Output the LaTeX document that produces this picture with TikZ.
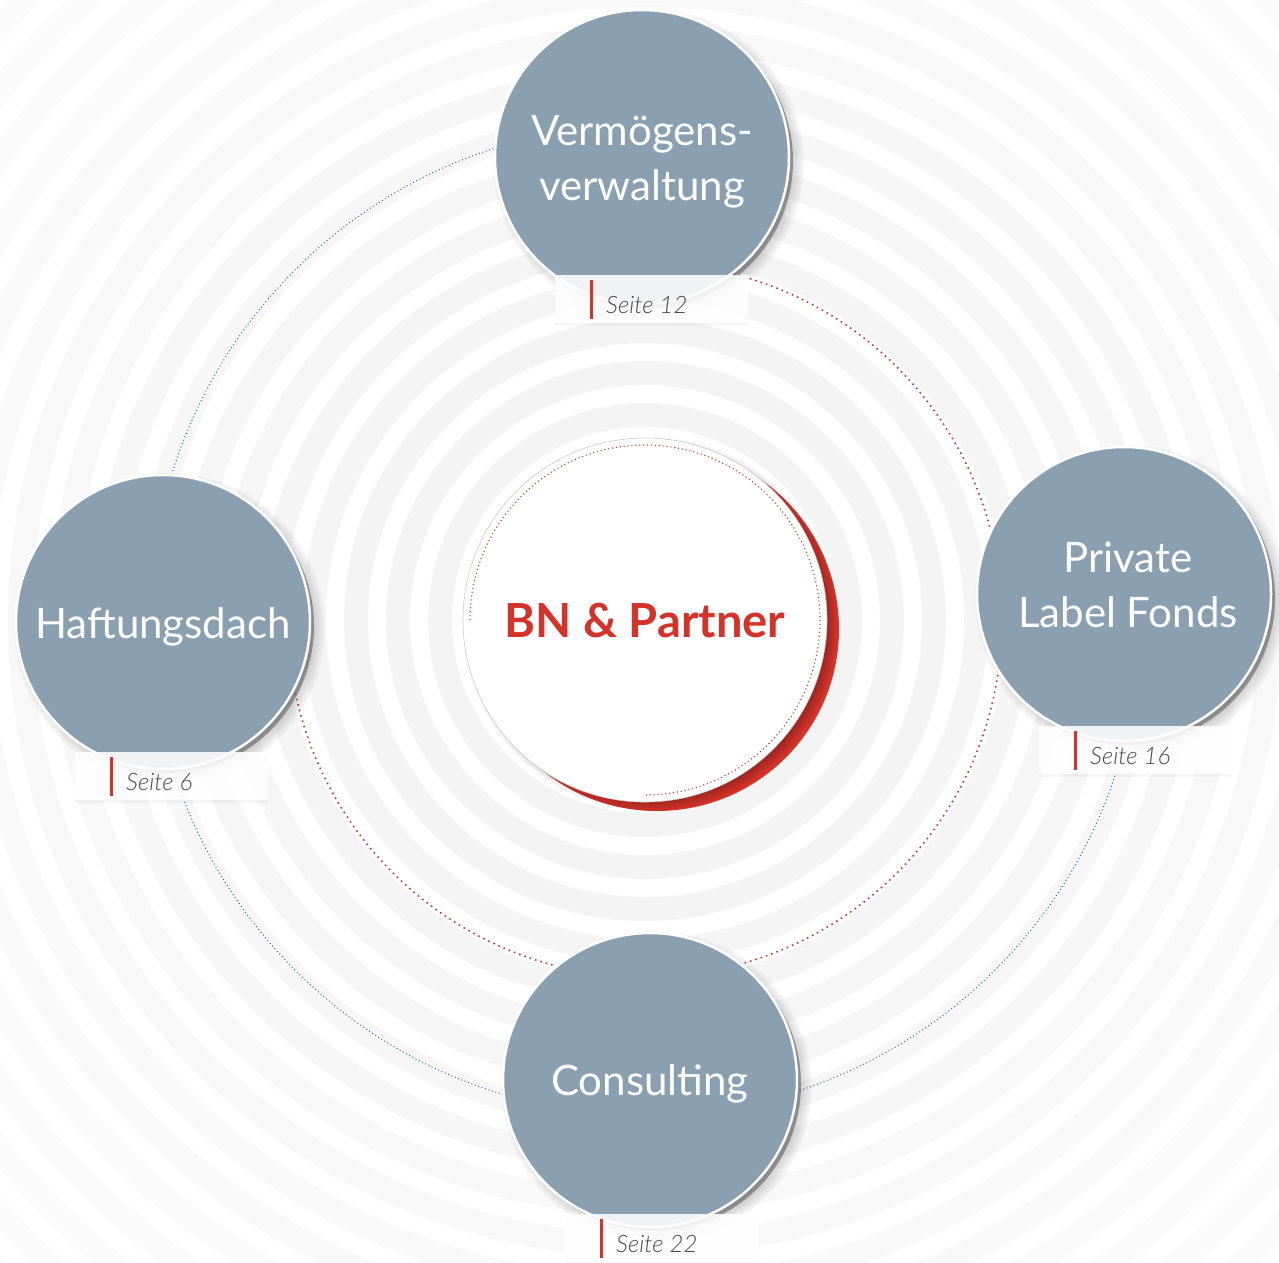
\documentclass[tikz,border=0pt]{standalone}
\usepackage{fontspec}
\setmainfont{Lato}
\newfontfamily\seitefont{Lato Light}
\usetikzlibrary{shadows,fadings,calc}

\definecolor{satfill}{HTML}{8A9FB0}
\definecolor{bnred}{HTML}{D4332A}
\definecolor{ringgrey}{HTML}{F4F4F4}
\definecolor{dotblue}{HTML}{3C6687}
\definecolor{seitegrey}{HTML}{4A4A4A}

\tikzset{
  ring/.style={draw=ringgrey, line width=24pt},
  reddots/.style={draw=bnred, line width=1.6pt, dash pattern=on 1.6pt off 4pt},
  bluedots/.style={draw=dotblue, line width=1pt, dash pattern=on 1pt off 2.6pt},
  sat/.style={circle, fill=satfill, draw=white, line width=2.5pt,
    minimum size=294pt, inner sep=0pt,
    circular drop shadow={shadow scale=1.06, shadow xshift=6pt,
      shadow yshift=-6pt, opacity=0.5, fill=black!60},
    general shadow={shadow scale=1.0, shadow xshift=4pt,
      shadow yshift=-4pt, opacity=0.55, fill=black!65}},
  sattext/.style={text=white, font=\fontsize{42}{55}\selectfont,
    align=center, inner sep=0pt},
  seitebox/.style={rectangle, anchor=north west, minimum width=193pt,
    minimum height=48pt, inner sep=0pt, fill=white, fill opacity=0.88,
    drop shadow={shadow xshift=0pt, shadow yshift=-3pt, opacity=0.07}},
  seitetext/.style={anchor=base west, inner sep=0pt, text=seitegrey,
    font=\seitefont\itshape\fontsize{24}{28}\selectfont},
  redbar/.style={draw=bnred, line width=3pt},
  bncircle/.style={circle, fill=white, draw=black!20, line width=0.6pt,
    minimum size=364pt, inner sep=0pt},
  bntext/.style={text=bnred, font=\bfseries\fontsize{47}{56}\selectfont,
    inner sep=0pt},
}

\begin{document}
\begin{tikzpicture}[x=1pt,y=-1pt]
\useasboundingbox (0,0) rectangle (1279,1262);
\fill[white] (0,0) rectangle (1279,1262);
\coordinate (C) at (645,620);

% concentric background rings, fading outwards
\begin{scope}
  \clip (0,0) rectangle (1279,1262);
  \foreach \k in {0,...,17}{
    \pgfmathsetmacro\op{max(0.3,1-0.045*\k)}
    \draw[ring, draw opacity=\op] (C) circle[radius={205+42*\k}];
  }
\end{scope}

% dotted orbits
\draw[bluedots] (C) ++(0:495) arc[start angle=0, end angle=270, radius=495];
\draw[reddots] (C) ++(270:357) arc[start angle=270, end angle=540, radius=357];

% central circle with red offset rim
\fill[bnred] ($(C)+(12,9)$) circle[radius=182];
\fill[black, opacity=0.6, path fading=circle with fuzzy edge 15 percent]
  ($(C)+(5,4)$) circle[radius=187];
\node[bncircle] (bn) at (C) {};
\draw[reddots, line width=1.1pt, dash pattern=on 1.1pt off 2.8pt]
  (bn.center) ++(180:175) arc[start angle=180, end angle=450, radius=175];
\node[bntext] (bnlabel) at (bn.center) {BN \& Partner};

% satellites
\node[sat] (vv) at (642,157) {};
\node[sat] (hd) at (163,622) {};
\node[sat] (pl) at (1124,594) {};
\node[sat] (co) at (650,1080) {};

\node[sattext] (vvt) at ($(vv.center)+(0,5)$) {Vermögens-\\verwaltung};
\node[sattext] (hdt) at ($(hd.center)+(0,5)$) {Haftungsdach};
\node[sattext] (plt) at ($(pl.center)+(4,-9)$) {Private\\Label Fonds};
\node[sattext] (cot) at ($(co.center)+(0,4)$) {Consulting};

% page references
\foreach \nm/\px/\py/\txt in {s12/555/275/12, s6/75/752/6, s16/1039/726/16, s22/565/1214/22}{
  \node[seitebox] (\nm) at (\px,\py) {};
  \draw[redbar] ([xshift=36pt,yshift=-5pt]\nm.north west)
             -- ([xshift=36pt,yshift=4pt]\nm.south west);
  \node[seitetext] at ([xshift=51pt,yshift=-38pt]\nm.north west) {Seite \txt};
}
\end{tikzpicture}
\end{document}
